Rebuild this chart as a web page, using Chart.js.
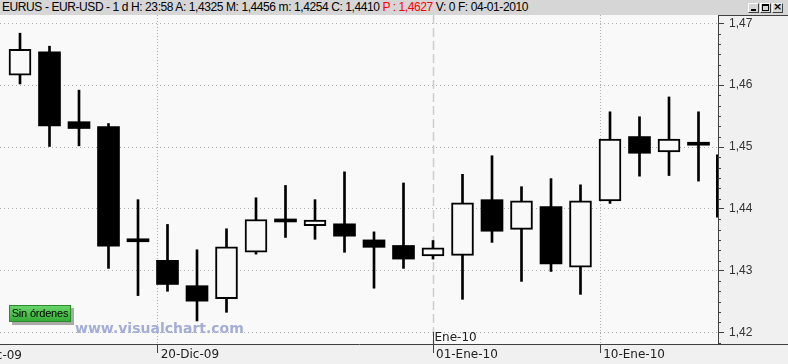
<!DOCTYPE html>
<html><head><meta charset="utf-8">
<script src="https://cdn.jsdelivr.net/npm/chart.js@4.4.1/dist/chart.umd.min.js"></script>
<style>
html,body{margin:0;padding:0;width:788px;height:364px;overflow:hidden;background:#f0f0f0;}
#hdr{position:absolute;left:0;top:0;width:788px;height:15px;background:#d6d6d6;font:12px "Liberation Sans",Arial,sans-serif;letter-spacing:-0.41px;line-height:15px;white-space:nowrap;color:#000;}
#hdr .t{position:absolute;left:2px;top:0px;}
.red{color:#ff0000}
#wrap{position:absolute;left:0;top:15px;width:788px;height:349px;}
.btn{position:absolute;top:3px;width:9px;height:8px;background:#d6d6d6;border-top:1px solid #fff;border-left:1px solid #fff;border-right:1px solid #404040;border-bottom:1px solid #404040;}
.btn i{position:absolute;display:block;}
#sin{position:absolute;left:9px;top:305px;width:60px;height:15px;background:linear-gradient(#6ad46a,#35ad35);border:1px solid #2c8a2c;box-shadow:3px 3px 0 #a9a9a9;font:11px "Liberation Sans",Arial,sans-serif;letter-spacing:-0.2px;line-height:15px;text-align:center;color:#000;}
</style></head>
<body>
<div id="hdr"><span class="t">EURUS - EUR-USD - 1 d H: 23:58 A: 1,4325 M: 1,4456 m: 1,4254 C: 1,4410 <span class="red">P : 1,4627</span> V: 0 F: 04-01-2010</span>
<div class="btn" style="left:748px"><i style="left:2px;top:5px;width:5px;height:2px;background:#000"></i></div>
<div class="btn" style="left:760px"><i style="left:1px;top:0px;width:5px;height:4px;border:1px solid #000;border-top-width:2px"></i></div>
<div class="btn" style="left:772px"><i style="left:0px;top:-3px;width:9px;font:bold 11px 'DejaVu Sans',sans-serif;text-align:center;line-height:12px;letter-spacing:0">×</i></div>
</div>
<div id="wrap"><canvas id="c" width="788" height="349"></canvas></div>
<div id="sin">Sin órdenes</div>
<script>
// ---- data ----
const dates = ['2009-12-14','2009-12-15','2009-12-16','2009-12-17','2009-12-18',
  '2009-12-21','2009-12-22','2009-12-23','2009-12-24','2009-12-25',
  '2009-12-28','2009-12-29','2009-12-30','2009-12-31','2010-01-01',
  '2010-01-04','2010-01-05','2010-01-06','2010-01-07','2010-01-08',
  '2010-01-11','2010-01-12','2010-01-13','2010-01-14'];
const openV  = [1.4616,1.4654,1.4541,1.4533,1.4350,1.4317,1.4276,1.4255,1.4330,1.4381,1.4373,1.4376,1.4350,1.4341,1.4324,1.4325,1.4415,1.4367,1.4404,1.4306,1.4413,1.4517,1.4492,1.4503];
const highV  = [1.4684,1.4663,1.4592,1.4538,1.4415,1.4375,1.4334,1.4368,1.4418,1.4438,1.4415,1.4460,1.4363,1.4442,1.4349,1.4456,1.4486,1.4436,1.4449,1.4439,1.4557,1.4549,1.4581,1.4557];
const lowV   = [1.4602,1.4501,1.4502,1.4304,1.4260,1.4267,1.4219,1.4233,1.4327,1.4354,1.4351,1.4330,1.4272,1.4304,1.4319,1.4254,1.4346,1.4283,1.4299,1.4262,1.4409,1.4453,1.4454,1.4445];
const closeV = [1.4658,1.4534,1.4530,1.4340,1.4347,1.4278,1.4251,1.4339,1.4383,1.4379,1.4382,1.4356,1.4338,1.4319,1.4337,1.4410,1.4364,1.4413,1.4311,1.4413,1.4513,1.4490,1.4513,1.4503];
const tickDates  = ['2009-12-20','2010-01-01','2010-01-10'];
const tickLabels = ['20-Dic-09','01-Ene-10','10-Ene-10'];
const yTicks = [1.42,1.43,1.44,1.45,1.46,1.47];
const monthStartDate = '2010-01-01';
const monthLabel = 'Ene-10';
const edgeLabel = '13-Dic-09';
const axisMarker = [1.4386, 1.4488];
const watermark = 'www.visualchart.com';

// ---- helpers ----
const dayMs = s => Date.parse(s + 'T00:00:00Z');
function datePos(d){
  const t = dayMs(d);
  for (let i = 0; i < dates.length - 1; i++){
    const a = dayMs(dates[i]), b = dayMs(dates[i+1]);
    if (t >= a && t <= b) return i + (t - a) / (b - a);
  }
  return null;
}
const tickPos = tickDates.map(datePos);
const monthPos = datePos(monthStartDate);
const idx = dates.map((d, i) => i);
const up = idx.map(i => closeV[i] > openV[i]);
const fmt = v => v.toFixed(2).replace('.', ',');

const deco = {
  id: 'deco',
  beforeDraw(chart){
    const {ctx, chartArea: a} = chart;
    ctx.save();
    ctx.fillStyle = '#f0f0f0';
    ctx.fillRect(0, 0, chart.width, chart.height);
    ctx.fillStyle = '#f9f9f9';
    ctx.fillRect(a.left, a.top, a.right - a.left, a.bottom - a.top);
    ctx.restore();
  },
  beforeDatasetsDraw(chart){
    const {ctx, chartArea: a, scales: {x}} = chart;
    const px = Math.round(x.getPixelForValue(monthPos)) + 0.5;
    ctx.save();
    ctx.strokeStyle = '#cdcdcd';
    ctx.lineWidth = 1.5;
    ctx.setLineDash([9, 4]);
    ctx.beginPath(); ctx.moveTo(px, a.top); ctx.lineTo(px, a.bottom); ctx.stroke();
    ctx.setLineDash([]);
    ctx.strokeStyle = '#404040';
    ctx.lineWidth = 1;
    ctx.beginPath(); ctx.moveTo(px, a.bottom - 12); ctx.lineTo(px, a.bottom); ctx.stroke();
    ctx.fillStyle = '#202020';
    ctx.font = '12px "DejaVu Sans"';
    ctx.textBaseline = 'alphabetic';
    ctx.fillText(monthLabel, px + 1, a.bottom - 3);
    ctx.fillStyle = '#a4aed4';
    ctx.font = 'bold 14px "DejaVu Sans"';
    ctx.fillText(watermark, a.left + 75, a.bottom - 11);
    ctx.restore();
  },
  afterDraw(chart){
    const {ctx, chartArea: a, scales: {y}} = chart;
    ctx.save();
    ctx.strokeStyle = '#404040';
    ctx.lineWidth = 1;
    for (let k = -3; k <= 33; k++){
      if (k % 6 === 0) continue;
      const v = yTicks[0] + k * (yTicks[1] - yTicks[0]) / 6;
      if (v < y.min || v > y.max) continue;
      const py = Math.round(y.getPixelForValue(v)) + 0.5;
      ctx.beginPath(); ctx.moveTo(a.right, py); ctx.lineTo(a.right + 3, py); ctx.stroke();
    }
    ctx.beginPath(); ctx.moveTo(a.right, 0.5); ctx.lineTo(chart.width, 0.5); ctx.stroke();
    ctx.beginPath(); ctx.moveTo(a.right, a.bottom + 0.5); ctx.lineTo(chart.width, a.bottom + 0.5); ctx.stroke();
    ctx.strokeStyle = '#000';
    ctx.lineWidth = 2;
    ctx.beginPath();
    ctx.moveTo(a.right - 1, y.getPixelForValue(axisMarker[1]));
    ctx.lineTo(a.right - 1, y.getPixelForValue(axisMarker[0]));
    ctx.stroke();
    ctx.fillStyle = '#202020';
    ctx.font = '12px "DejaVu Sans"';
    ctx.textAlign = 'right';
    ctx.textBaseline = 'middle';
    ctx.fillText(edgeLabel, 22, a.bottom + 12);
    ctx.restore();
  }
};

new Chart(document.getElementById('c'), {
  type: 'bar',
  data: {
    datasets: [
      { label: 'body', data: idx.map(i => ({x: i, y: [openV[i], closeV[i]]})),
        backgroundColor: idx.map(i => up[i] ? '#f9f9f9' : '#000000'),
        borderColor: '#000000', borderWidth: idx.map(i => up[i] ? 2 : 0), borderSkipped: false,
        barThickness: 22, minBarLength: 3, grouped: false, order: 0 },
      { label: 'wick', data: idx.map(i => ({x: i, y: [lowV[i], highV[i]]})),
        backgroundColor: '#000000', borderWidth: 0,
        barThickness: 2, grouped: false, order: 1 }
    ]
  },
  options: {
    responsive: false, animation: false, devicePixelRatio: 1,
    layout: {padding: 0, autoPadding: false},
    plugins: {legend: {display: false}, tooltip: {enabled: false}},
    scales: {
      x: {
        type: 'linear', min: -0.678, max: 23.661, offset: false,
        grid: {offset: false, lineWidth: 1, tickLength: 9, tickColor: '#404040', tickWidth: 1,
               color: c => (c.tick && Math.abs(c.tick.value - monthPos) < 1e-6) ? 'rgba(0,0,0,0)' : '#b0b0b0'},
        border: {color: '#404040', width: 1, dash: [1, 2]},
        afterBuildTicks: s => { s.ticks = tickPos.map(v => ({value: v})); },
        ticks: {autoSkip: false, maxRotation: 0, minRotation: 0, align: 'start', labelOffset: 3, padding: -5,
                font: {family: 'DejaVu Sans', size: 12}, color: '#202020',
                callback: (v, i) => tickLabels[i]},
        afterFit: s => { s.height = 20; s.paddingLeft = 0; s.paddingRight = 0; }
      },
      y: {
        position: 'right', min: 1.41818, max: 1.47134,
        grid: {color: '#b0b0b0', lineWidth: 1, tickLength: 6, tickColor: '#404040', tickWidth: 1},
        border: {color: '#404040', width: 1, dash: [1, 3]},
        afterBuildTicks: s => { s.ticks = yTicks.map(v => ({value: v})); },
        ticks: {padding: 5, font: {family: 'Liberation Sans', size: 12}, color: '#333333',
                callback: v => fmt(v)},
        afterFit: s => { s.width = 70; s.paddingTop = 0; s.paddingBottom = 0; }
      }
    }
  },
  plugins: [deco]
});
</script>
</body></html>
